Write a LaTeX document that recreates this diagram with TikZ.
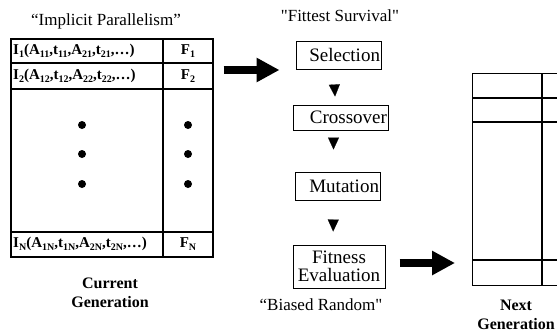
\documentclass[tikz,border=0pt]{standalone}
\usepackage{fontspec}
\setmainfont{Liberation Serif}
\usetikzlibrary{arrows.meta, positioning}
\newcommand{\sbs}[1]{\raisebox{-2.5pt}{\fontsize{10}{10}\selectfont #1}}

\tikzset{
  stage/.style={draw, line width=1pt, font=\fontsize{19}{18}\selectfont, inner xsep=1pt, inner ysep=0pt, align=right},
  cell/.style={font=\fontsize{15}{16}\bfseries\selectfont, inner sep=0pt},
  caption/.style={font=\fontsize{17}{20}\selectfont},
  gencap/.style={font=\fontsize{16}{19}\bfseries\selectfont, align=center},
  dot/.style={circle, fill, inner sep=0pt, minimum size=8pt},
  grid/.style={line width=1.3pt},
  bigarrow/.style={line width=7.5pt, -{Triangle[length=23pt,width=23pt]}},
  steparrow/.style={line width=0.1pt, -{Triangle[length=12pt,width=11pt]}},
}

\begin{document}
\begin{tikzpicture}[x=1pt, y=-1pt]
    \useasboundingbox (0,0) rectangle (557,332);
    \clip (0,0) rectangle (557,332);
    % Current generation table
    \node [draw, grid, minimum width=202pt, minimum height=218pt, inner sep=0pt] (cur) at (112,148) {};
    \draw [grid] (163,39) -- (163,257);
    \foreach \y in {63, 89, 232}
        \draw [grid] (11,\y) -- (213,\y);
    \node [cell, anchor=west] (r1) at (13,51) {I\sbs{1}(A\sbs{11},t\sbs{11},A\sbs{21},t\sbs{21},\dots)};
    \node [cell] (f1) at (188,51) {F\sbs{1}};
    \node [cell, anchor=west] (r2) at (13,76) {I\sbs{2}(A\sbs{12},t\sbs{12},A\sbs{22},t\sbs{22},\dots)};
    \node [cell] (f2) at (188,76) {F\sbs{2}};
    \node [cell, anchor=west] (rn) at (13,244) {I\sbs{N}(A\sbs{1N},t\sbs{1N},A\sbs{2N},t\sbs{2N},\dots)};
    \node [cell] (fn) at (188,244) {F\sbs{N}};
    % Dots
    \foreach \y [count=\i] in {125, 154, 184} {
        \node [dot] (dl\i) at (82,\y) {};
        \node [dot] (dr\i) at (188,\y) {};
    }
    % Captions
    \node [caption, anchor=base] (ip) at (106,25) {``Implicit Parallelism''};
    \node [caption, anchor=base] (fs) at (340,21) {\textquotedbl Fittest Survival\textquotedbl};
    \node [caption, anchor=base] (br) at (321,310) {``Biased Random\textquotedbl};
    \node [gencap, anchor=north] (cg) at (110,274) {Current\\Generation};
    \node [gencap, anchor=north] (ng) at (516,296) {Next\\Generation};
    % Stages
    \node [stage, text width=83pt, minimum height=28pt] (sel) at (338.5,55) {Selection};
    \node [stage, text width=93pt, minimum height=25pt] (cro) at (340.5,117.5) {Crossover};
    \node [stage, text width=83pt, minimum height=28pt] (mut) at (337.5,186) {Mutation};
    \node [stage, text width=90pt, minimum height=43pt, align=center] (fit) at (339,266.5) {Fitness\\Evaluation};
    % Step arrows
    \draw [steparrow, shorten <=16pt, shorten >=8pt] ([xshift=-5pt]sel.south) -- ([xshift=-5pt]cro.north);
    \draw [steparrow, shorten <=8pt, shorten >=22pt] ([xshift=-7pt]cro.south) -- ([xshift=-4pt]mut.north);
    \draw [steparrow, shorten <=20pt, shorten >=13pt] ([xshift=-4pt]mut.south) -- ([xshift=-6pt]fit.north);
    % Next generation table
    \node [draw, grid, minimum width=160pt, minimum height=212pt, inner sep=0pt, anchor=north west] (nxt) at (472,73) {};
    \draw [grid] (542,73) -- (542,285);
    \foreach \y in {98, 122, 260}
        \draw [grid] (472,\y) -- (632,\y);
    % Big arrows
    \draw [bigarrow, shorten <=10pt, shorten >=16pt] (cur.east |- 0,70) -- (sel.west |- 0,70);
    \draw [bigarrow, shorten <=14pt, shorten >=17pt] (fit.east |- 0,263) -- (nxt.west |- 0,263);
\end{tikzpicture}
\end{document}
